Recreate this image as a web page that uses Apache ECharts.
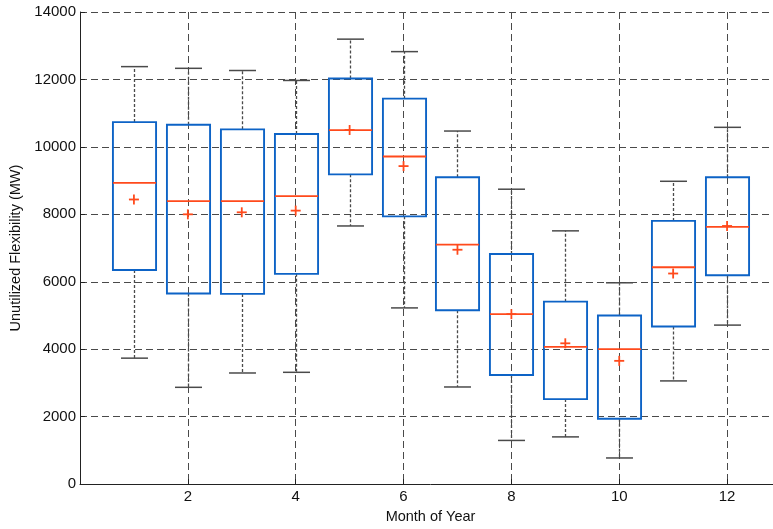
<!DOCTYPE html>
<html>
<head>
<meta charset="utf-8">
<script src="https://cdn.jsdelivr.net/npm/echarts@6/dist/echarts.min.js"></script>
<style>
  html, body { margin: 0; padding: 0; background: #fff; overflow: hidden; }
  #chart { width: 790px; height: 529px; }
</style>
</head>
<body>
<div id="chart"></div>
<script>
// Monthly distribution of unutilized flexibility (MW)
const months       = [1, 2, 3, 4, 5, 6, 7, 8, 9, 10, 11, 12];
const lowerWhisker = [3735, 2870, 3295, 3315, 7655, 5225, 2880, 1295, 1400, 775, 3060, 4715];
const q1           = [6350, 5650, 5640, 6235, 9185, 7940, 5155, 3235, 2520, 1940, 4675, 6195];
const median       = [8930, 8390, 8390, 8540, 10500, 9715, 7100, 5040, 4070, 4000, 6430, 7625];
const q3           = [10735, 10655, 10520, 10380, 12030, 11430, 9100, 6825, 5410, 5000, 7805, 9100];
const upperWhisker = [12380, 12330, 12265, 11970, 13195, 12825, 10470, 8745, 7510, 5970, 8980, 10580];
const meanValue    = [8440, 8000, 8060, 8110, 10500, 9430, 6950, 5040, 4175, 3655, 6245, 7655];
const yTicks       = [0, 2000, 4000, 6000, 8000, 10000, 12000, 14000];
const xTickLabels  = ['2', '4', '6', '8', '10', '12'];

const BOX_BLUE = '#0d63c6';
const MED_RED = '#ff4a1c';
const WHISKER = '#4a4a4a';

const boxData = months.map((m, i) => [m, lowerWhisker[i], q1[i], median[i], q3[i], upperWhisker[i]]);
const meanData = months.map((m, i) => [m, meanValue[i]]);

function renderBox(params, api) {
  const x = api.value(0);
  const pLow = api.coord([x, api.value(1)]);
  const pQ1 = api.coord([x, api.value(2)]);
  const pMed = api.coord([x, api.value(3)]);
  const pQ3 = api.coord([x, api.value(4)]);
  const pHigh = api.coord([x, api.value(5)]);
  const boxW = api.size([0.8, 0])[0];
  const capW = api.size([0.5, 0])[0];
  const cx = Math.round(pMed[0]) + 0.5;
  const dashStyle = { stroke: WHISKER, lineWidth: 1.3, lineDash: [3, 2], fill: null };
  const capStyle = { stroke: WHISKER, lineWidth: 1.5, fill: null };
  return {
    type: 'group',
    children: [
      { type: 'line', shape: { x1: cx, y1: pQ3[1], x2: cx, y2: pHigh[1] }, style: dashStyle },
      { type: 'line', shape: { x1: cx, y1: pQ1[1], x2: cx, y2: pLow[1] }, style: dashStyle },
      { type: 'line', shape: { x1: cx - capW / 2, y1: pHigh[1], x2: cx + capW / 2, y2: pHigh[1] }, style: capStyle },
      { type: 'line', shape: { x1: cx - capW / 2, y1: pLow[1], x2: cx + capW / 2, y2: pLow[1] }, style: capStyle },
      { type: 'rect', shape: { x: cx - boxW / 2, y: pQ3[1], width: boxW, height: pQ1[1] - pQ3[1] },
        style: { stroke: BOX_BLUE, lineWidth: 1.9, fill: null } },
      { type: 'line', shape: { x1: cx - boxW / 2, y1: pMed[1], x2: cx + boxW / 2, y2: pMed[1] },
        style: { stroke: MED_RED, lineWidth: 1.8 } }
    ]
  };
}

function renderMean(params, api) {
  const p = api.coord([api.value(0), api.value(1)]);
  const h = 5;
  const st = { stroke: MED_RED, lineWidth: 1.8 };
  return {
    type: 'group',
    children: [
      { type: 'line', shape: { x1: p[0] - h, y1: p[1], x2: p[0] + h, y2: p[1] }, style: st },
      { type: 'line', shape: { x1: p[0], y1: p[1] - h, x2: p[0], y2: p[1] + h }, style: st }
    ]
  };
}

const chart = echarts.init(document.getElementById('chart'), null, { renderer: 'canvas' });
const axisFont = { fontFamily: 'Liberation Sans, Arial, sans-serif', fontSize: 15, color: '#111' };
const gridLine = { show: true, lineStyle: { color: '#4a4a4a', type: [7, 4], width: 1 } };

chart.setOption({
  animation: false,
  backgroundColor: '#fff',
  grid: { left: 80, top: 12, width: 701, height: 476, containLabel: false },
  xAxis: {
    type: 'value', min: 0, max: 13, interval: 2,
    name: 'Month of Year', nameLocation: 'middle', nameGap: 19,
    nameTextStyle: Object.assign({}, axisFont, { fontSize: 14.5 }),
    axisLine: { show: true, lineStyle: { color: '#222', width: 1 } },
    axisTick: { show: true, inside: true, length: 5, lineStyle: { color: '#222' } },
    axisLabel: Object.assign({
      margin: 5,
      formatter: v => (xTickLabels.indexOf(String(v)) >= 0 ? String(v) : '')
    }, axisFont),
    splitLine: gridLine
  },
  yAxis: {
    type: 'value', min: yTicks[0], max: yTicks[yTicks.length - 1], interval: yTicks[1] - yTicks[0],
    name: 'Unutilized Flexibility (MW)', nameLocation: 'middle', nameGap: 52,
    nameTextStyle: Object.assign({}, axisFont, { fontSize: 14.5 }),
    axisLine: { show: true, lineStyle: { color: '#222', width: 1 } },
    axisTick: { show: true, inside: true, length: 5, lineStyle: { color: '#222' } },
    axisLabel: Object.assign({ margin: 4, formatter: v => String(v) }, axisFont),
    splitLine: gridLine
  },
  series: [
    { type: 'custom', renderItem: renderBox, data: boxData, encode: { x: 0, y: [1, 2, 3, 4, 5] }, z: 3 },
    { type: 'custom', renderItem: renderMean, data: meanData, encode: { x: 0, y: 1 }, z: 4 }
  ]
});
</script>
</body>
</html>
